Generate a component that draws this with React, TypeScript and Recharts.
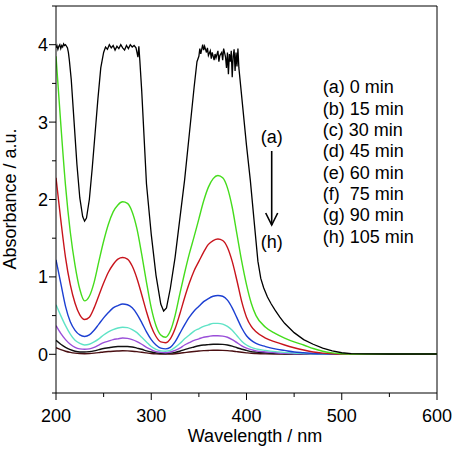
import React from "react";
import { LineChart, Line, XAxis, YAxis, ReferenceLine } from "recharts";

const FONT = "'Liberation Sans', Arial, Helvetica, sans-serif";

// shared wavelength grid (nm) for curves (b)–(h)
const wavelengths = [
  200, 205, 210, 215, 220, 225, 230, 235, 240, 245, 250, 255, 260, 265, 270, 275, 280, 285, 290, 295,
  300, 305, 310, 315, 320, 325, 330, 335, 340, 345, 350, 355, 360, 365, 370, 375, 380, 385, 390, 395,
  400, 405, 410, 420, 430, 440, 450, 460, 470, 480, 490, 500, 525, 550, 575, 600,
];

// (b) 15 min
const absB = [
  3.85, 2.98, 2.18, 1.58, 1.15, 0.84, 0.69, 0.75, 0.93, 1.2, 1.46, 1.68, 1.84, 1.93, 1.97, 1.95, 1.84, 1.62, 1.29, 0.93,
  0.6, 0.37, 0.25, 0.22, 0.3, 0.5, 0.78, 1.05, 1.3, 1.52, 1.75, 1.98, 2.16, 2.27, 2.31, 2.28, 2.15, 1.9, 1.55, 1.2,
  0.9, 0.66, 0.5, 0.35, 0.27, 0.21, 0.16, 0.12, 0.075, 0.04, 0.018, 0.008, 0.004, 0.003, 0.003, 0.003,
];
// (c) 30 min
const absC = [
  2.28, 1.74, 1.25, 0.9, 0.66, 0.51, 0.45, 0.48, 0.6, 0.76, 0.92, 1.06, 1.16, 1.23, 1.25, 1.23, 1.14, 0.98, 0.77, 0.55,
  0.36, 0.23, 0.16, 0.15, 0.2, 0.33, 0.52, 0.73, 0.92, 1.08, 1.2, 1.32, 1.42, 1.47, 1.49, 1.47, 1.38, 1.2, 0.95, 0.68,
  0.48, 0.36, 0.29, 0.21, 0.16, 0.12, 0.085, 0.055, 0.03, 0.015, 0.007, 0.003, 0.002, 0.002, 0.002, 0.002,
];
// (d) 45 min
const absD = [
  1.22, 0.92, 0.62, 0.42, 0.31, 0.25, 0.23, 0.25, 0.31, 0.39, 0.47, 0.54, 0.6, 0.63, 0.65, 0.64, 0.6, 0.52, 0.41, 0.29,
  0.19, 0.12, 0.08, 0.07, 0.09, 0.16, 0.27, 0.38, 0.48, 0.56, 0.62, 0.68, 0.72, 0.75, 0.76, 0.75, 0.7, 0.6, 0.47, 0.34,
  0.24, 0.18, 0.14, 0.1, 0.07, 0.05, 0.03, 0.02, 0.01, 0.005, 0.003, 0.002, 0.002, 0.002, 0.002, 0.002,
];
// (e) 60 min
const absE = [
  0.64, 0.5, 0.37, 0.26, 0.18, 0.14, 0.12, 0.13, 0.16, 0.2, 0.25, 0.29, 0.32, 0.34, 0.35, 0.345, 0.32, 0.28, 0.22, 0.16,
  0.1, 0.065, 0.045, 0.04, 0.05, 0.09, 0.14, 0.2, 0.25, 0.3, 0.33, 0.36, 0.38, 0.4, 0.4, 0.39, 0.36, 0.31, 0.24, 0.17,
  0.12, 0.09, 0.07, 0.05, 0.035, 0.025, 0.015, 0.01, 0.005, 0.003, 0.002, 0.002, 0.002, 0.002, 0.002, 0.002,
];
// (f) 75 min
const absF = [
  0.37, 0.27, 0.19, 0.13, 0.09, 0.07, 0.065, 0.07, 0.09, 0.12, 0.15, 0.17, 0.19, 0.2, 0.21, 0.205, 0.19, 0.165, 0.13, 0.09,
  0.06, 0.035, 0.025, 0.02, 0.03, 0.05, 0.08, 0.12, 0.15, 0.18, 0.2, 0.22, 0.23, 0.24, 0.24, 0.235, 0.22, 0.19, 0.15, 0.11,
  0.08, 0.06, 0.045, 0.03, 0.02, 0.012, 0.008, 0.005, 0.003, 0.002, 0.002, 0.002, 0.002, 0.002, 0.002, 0.002,
];
// (g) 90 min
const absG = [
  0.18, 0.13, 0.09, 0.06, 0.04, 0.03, 0.03, 0.035, 0.045, 0.06, 0.075, 0.085, 0.095, 0.1, 0.1, 0.1, 0.095, 0.08, 0.065, 0.045,
  0.03, 0.018, 0.012, 0.01, 0.015, 0.025, 0.04, 0.06, 0.08, 0.095, 0.11, 0.12, 0.125, 0.13, 0.13, 0.128, 0.12, 0.105, 0.085, 0.065,
  0.05, 0.035, 0.028, 0.02, 0.012, 0.008, 0.005, 0.003, 0.002, 0.002, 0.002, 0.002, 0.002, 0.002, 0.002, 0.002,
];
// (h) 105 min
const absH = [
  0.085, 0.06, 0.04, 0.025, 0.015, 0.01, 0.008, 0.01, 0.015, 0.022, 0.03, 0.036, 0.04, 0.043, 0.045, 0.044, 0.04, 0.034, 0.026, 0.018,
  0.01, 0.005, 0.003, 0.002, 0.004, 0.008, 0.014, 0.022, 0.03, 0.037, 0.043, 0.047, 0.05, 0.052, 0.052, 0.051, 0.048, 0.042, 0.034, 0.026,
  0.019, 0.013, 0.01, 0.006, 0.004, 0.003, 0.002, 0.002, 0.002, 0.002, 0.002, 0.002, 0.002, 0.002, 0.002, 0.002,
];

// (a) 0 min, saturated detector plateaus, sampled more densely
const curveA: [number, number][] = [
  [200, 3.96], [201, 3.99], [202, 3.94], [203, 3.98], [204, 4.0], [205, 3.95], [206, 3.99], [207, 3.97],
  [208, 4.01], [209, 3.99], [210, 4.0], [211, 3.98], [212, 3.96], [213, 3.9], [214, 3.8], [216, 3.55],
  [219, 3.0], [222, 2.45], [225, 2.02], [228, 1.78], [230, 1.72], [232, 1.76], [235, 2.0], [238, 2.4],
  [241, 2.85], [244, 3.3], [247, 3.7], [250, 3.9], [252, 3.97], [254, 3.94], [256, 4.0], [258, 3.96],
  [260, 3.99], [262, 3.93], [264, 3.98], [266, 3.95], [268, 4.0], [270, 3.96], [272, 3.93], [274, 3.99],
  [276, 3.95], [278, 4.0], [280, 3.97], [282, 3.99], [284, 3.96], [285, 3.9], [286, 3.84], [287, 3.98],
  [288, 3.8], [290, 3.4], [295, 2.2], [300, 1.55], [305, 1.02], [310, 0.65], [313, 0.56], [316, 0.6],
  [320, 0.85], [325, 1.25], [330, 1.75], [335, 2.25], [340, 2.85], [345, 3.45], [348, 3.78], [350, 3.85],
  [351, 3.95], [352, 3.88], [354, 4.0], [355, 3.93], [356, 3.98], [358, 3.9], [359, 3.96], [360, 3.86],
  [362, 3.92], [363, 3.82], [364, 3.9], [366, 3.8], [367, 3.88], [368, 3.83], [370, 3.92], [371, 3.78],
  [372, 3.86], [374, 3.9], [375, 3.8], [376, 3.95], [378, 3.84], [379, 3.7], [380, 3.9], [381, 3.62],
  [382, 3.88], [383, 3.78], [384, 3.92], [385, 3.58], [386, 3.85], [387, 3.94], [388, 3.66], [389, 3.9],
  [390, 3.72], [391, 3.95], [392, 3.7], [396, 3.2], [400, 2.7], [404, 2.25], [408, 1.72], [412, 1.2],
  [415, 0.98], [418, 0.86], [422, 0.74], [426, 0.65], [430, 0.57], [435, 0.48], [440, 0.4], [445, 0.34],
  [450, 0.28], [460, 0.19], [470, 0.13], [480, 0.08], [490, 0.045], [500, 0.02], [510, 0.01], [525, 0.005],
  [550, 0.004], [575, 0.004], [600, 0.004],
];

const legendLines = [
  "(a) 0 min", "(b) 15 min", "(c) 30 min", "(d) 45 min",
  "(e) 60 min", "(f)  75 min", "(g) 90 min", "(h) 105 min",
];

const xTicks = [200, 250, 300, 350, 400, 450, 500, 550, 600];
const yTicks = [-0.5, 0, 0.5, 1, 1.5, 2, 2.5, 3, 3.5, 4, 4.5];

const rows = wavelengths.map((w, i) => ({
  w, b: absB[i], c: absC[i], d: absD[i], e: absE[i], f: absF[i], g: absG[i], h: absH[i],
}));
const rowsA = curveA.map(([w, a]) => ({ w, a }));

const series = [
  { key: "h", color: "#4a0f12" },
  { key: "g", color: "#111111" },
  { key: "f", color: "#9a4fd8" },
  { key: "e", color: "#5fe3c6" },
  { key: "d", color: "#1c3fd2" },
  { key: "c", color: "#c8141c" },
  { key: "b", color: "#45dc1c" },
];

function XTick({ x, y, payload }: any) {
  const major = payload.value % 100 === 0;
  return (
    <g>
      <line x1={x} y1={y} x2={x} y2={y + (major ? 7 : 4)} stroke="#000" />
      {major && (
        <text x={x} y={y + 28.5} textAnchor="middle" fontSize={18} fontFamily={FONT} fill="#000">
          {payload.value}
        </text>
      )}
    </g>
  );
}

function YTick({ x, y, payload }: any) {
  const major = Number.isInteger(payload.value);
  return (
    <g>
      <line x1={x - (major ? 7 : 4)} y1={y} x2={x} y2={y} stroke="#000" />
      {major && (
        <text x={x - 8} y={y + 6.5} textAnchor="end" fontSize={18} fontFamily={FONT} fill="#000">
          {payload.value}
        </text>
      )}
    </g>
  );
}

export default function App() {
  return (
    <div style={{ position: "absolute", left: 0, top: 0, width: 454, height: 450, background: "#fff" }}>
      <LineChart width={454} height={450} data={rows} margin={{ top: 6, right: 17, left: 0, bottom: 0 }}>
        <XAxis
          dataKey="w" type="number" domain={[200, 600]} ticks={xTicks} interval={0}
          height={57} tickSize={0} tickMargin={0} tick={<XTick />}
          axisLine={{ stroke: "#000" }} allowDataOverflow
        />
        <YAxis
          type="number" domain={[-0.5, 4.5]} ticks={yTicks} interval={0}
          width={56} tickSize={0} tickMargin={0} tick={<YTick />}
          axisLine={{ stroke: "#000" }} allowDataOverflow
        />
        <ReferenceLine y={4.5} stroke="#000" />
        <ReferenceLine x={600} stroke="#000" />
        {series.map((s) => (
          <Line key={s.key} dataKey={s.key} type="monotone" stroke={s.color} strokeWidth={1.4}
            dot={false} isAnimationActive={false} />
        ))}
        <Line data={rowsA} dataKey="a" type="linear" stroke="#000" strokeWidth={1.3}
          dot={false} isAnimationActive={false} />

        <text x={15.5} y={199} transform="rotate(-90 15.5 199)" textAnchor="middle"
          fontSize={18} fontFamily={FONT} fill="#000">Absorbance / a.u.</text>
        <text x={255} y={442} textAnchor="middle" fontSize={18} fontFamily={FONT} fill="#000">
          Wavelength / nm
        </text>

        {legendLines.map((t, i) => (
          <text key={t} x={322.7} y={93.3 + i * 21.33} fontSize={18} fontFamily={FONT} fill="#000"
            style={{ whiteSpace: "pre" }}>{t}</text>
        ))}

        <text x={271.7} y={143} textAnchor="middle" fontSize={18} fontFamily={FONT} fill="#000">(a)</text>
        <line x1={271.7} y1={151} x2={271.7} y2={225} stroke="#000" strokeWidth={1.6} />
        <polyline points="265.7,213 271.7,225 277.7,213" fill="none" stroke="#000" strokeWidth={1.6} />
        <text x={271.7} y={248} textAnchor="middle" fontSize={18} fontFamily={FONT} fill="#000">(h)</text>
      </LineChart>
    </div>
  );
}
